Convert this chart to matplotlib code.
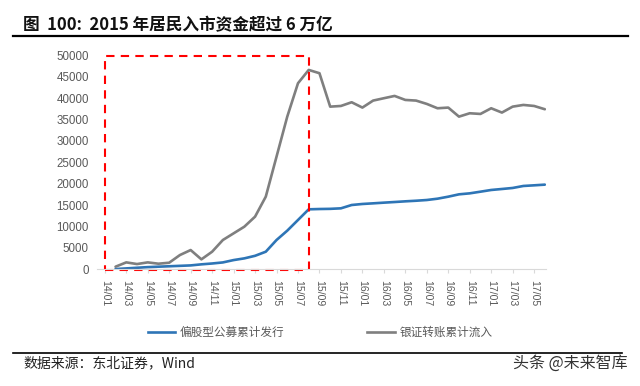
import matplotlib.pyplot as plt
from matplotlib.lines import Line2D

plt.rcParams['font.family'] = ['Liberation Sans', 'Noto Sans CJK SC', 'DejaVu Sans']

# monthly categories 14/01 .. 17/06
months = [f"{y}/{m:02d}" for y in (14, 15, 16) for m in range(1, 13)] + \
         [f"17/{m:02d}" for m in range(1, 7)]

# series start at 14/02
fund_issue = [0, 150, 300, 450, 550, 650, 750, 850, 1100, 1300, 1550, 2100,
              2500, 3100, 4060, 6800, 8990, 11490, 13990, 14060, 14100, 14220,
              15000, 15240, 15390, 15550, 15700, 15860, 16000, 16170, 16480,
              16950, 17500, 17730, 18120, 18520, 18750, 18990, 19460, 19610,
              19770]
bank_transfer = [550, 1560, 1170, 1560, 1250, 1480, 3280, 4450, 2270, 4060,
                 6800, 8360, 9920, 12270, 16960, 26320, 35700, 43520, 46640,
                 45870, 38040, 38200, 39070, 37820, 39460, 40010, 40550, 39610,
                 39460, 38680, 37660, 37820, 35700, 36490, 36330, 37660, 36650,
                 38040, 38440, 38200, 37430]

series_names = ["偏股型公募累计发行", "银证转账累计流入"]
box_months = ("14/01", "15/08")

blue = "#2E75B6"
gray = "#7F7F7F"
txt = "#595959"

fig = plt.figure(figsize=(6.4, 3.86), dpi=100)
ax = fig.add_axes([0.152, 0.303, 0.701, 0.553])

x = list(range(1, 1 + len(fund_issue)))
ax.plot(x, fund_issue, color=blue, lw=1.9, solid_joinstyle='round', solid_capstyle='round')
ax.plot(x, bank_transfer, color=gray, lw=1.9, solid_joinstyle='round', solid_capstyle='round')

# red dashed highlight box
x0 = months.index(box_months[0])
x1 = months.index(box_months[1])
ax.plot([x0, x1, x1, x0, x0], [-250, -250, 50000, 50000, -250], color="#FF0000",
        lw=1.5, ls=(0, (4, 3)), clip_on=False)

ax.set_xlim(-0.7, 41.1)
ax.set_ylim(0, 50000)
ax.set_yticks(range(0, 50001, 5000))
ax.set_yticklabels([str(v) for v in range(0, 50001, 5000)], fontsize=8.3, color=txt)
ax.tick_params(axis='y', length=0, pad=6)
ax.set_xticks(range(0, len(months), 2))
ax.set_xticklabels(months[::2], rotation=270, fontsize=7.6, color=txt)
ax.tick_params(axis='x', length=3, color="#D9D9D9", pad=5)
for s in ("left", "right", "top"):
    ax.spines[s].set_visible(False)
ax.spines["bottom"].set_color("#D9D9D9")

# legend
fig.text(180 / 640, 1 - 332 / 386, series_names[0], fontsize=8.4, color=txt,
         va='center', family='Noto Sans CJK SC')
fig.text(400 / 640, 1 - 332 / 386, series_names[1], fontsize=8.4, color=txt,
         va='center', family='Noto Sans CJK SC')
fig.add_artist(Line2D([148 / 640, 175 / 640], [1 - 332 / 386] * 2, color=blue, lw=1.9))
fig.add_artist(Line2D([367 / 640, 395 / 640], [1 - 332 / 386] * 2, color=gray, lw=1.9))

# title and rules
fig.text(23 / 640, 1 - 25 / 386, "图  100:  2015 年居民入市资金超过 6 万亿", fontsize=12,
         fontweight='bold', va='center', family='Noto Sans CJK SC', color="#111111")
fig.add_artist(Line2D([13 / 640, 628 / 640], [1 - 36 / 386] * 2, color="black", lw=1.6))
fig.add_artist(Line2D([13 / 640, 622 / 640], [1 - 353 / 386] * 2, color="black", lw=1.2))
fig.text(23 / 640, 1 - 363 / 386, "数据来源：东北证券，Wind", fontsize=10,
         va='center', family='Noto Sans CJK SC', color="#222222")
fig.text(628 / 640, 1 - 363 / 386, "头条 @未来智库", fontsize=11.5, ha='right',
         va='center', family='Noto Sans CJK SC', color="#333333")

fig.savefig("out.png", dpi=100)
